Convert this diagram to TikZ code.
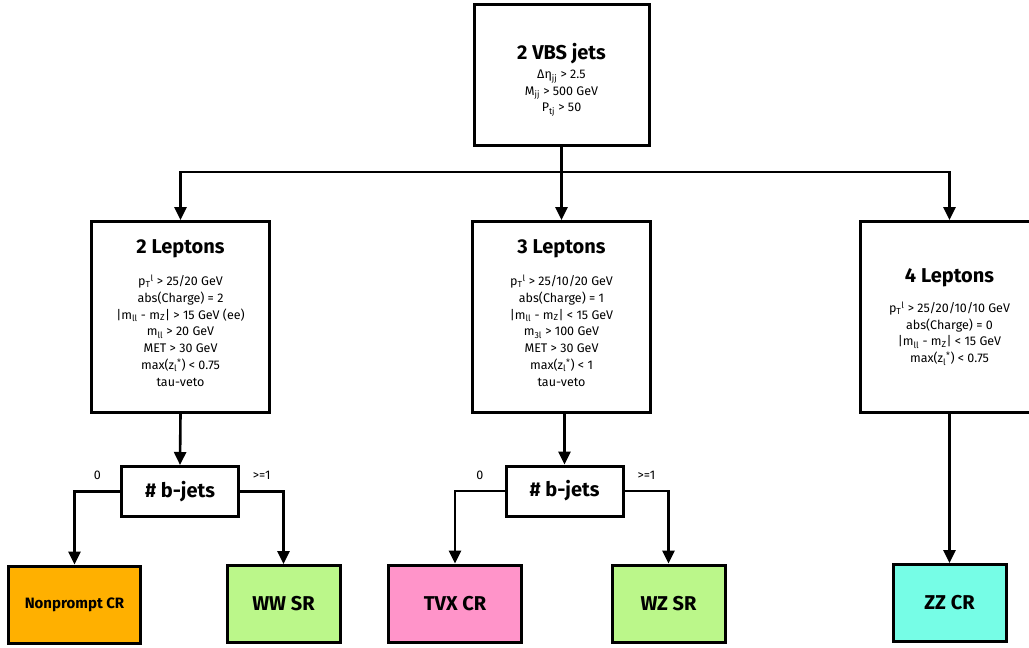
\documentclass[tikz,border=0pt]{standalone}
\usepackage{fontspec}
\setmainfont{Fira Sans}
\usepackage{xcolor}
\usetikzlibrary{arrows.meta, positioning}

\definecolor{nporange}{RGB}{255,176,0}
\definecolor{srgreen}{RGB}{187,247,138}
\definecolor{tvxpink}{RGB}{255,148,201}
\definecolor{zzcyan}{RGB}{118,253,230}

\newcommand{\boxtitle}[1]{{\fontsize{20}{22}\selectfont\bfseries #1}}

\begin{document}
\begin{tikzpicture}[
			x=1pt, y=-1pt,
			font=\fontsize{12.5}{16.8}\selectfont,
			cut/.style={draw, line width=3pt, fill=white, align=center, inner sep=0pt},
			region/.style={draw, line width=3pt, align=center, minimum height=77pt, font=\fontsize{20}{22}\selectfont\bfseries},
			arrow/.style={-{Triangle[length=13pt,width=12pt]}, line width=2.6pt},
			lbl/.style={font=\fontsize{12.5}{14}\selectfont, above, yshift=7pt}
			]
			\useasboundingbox (0,0) rectangle (1029,648);
			\clip (0,0) rectangle (1029,648);
			\fill[white] (0,0) rectangle (1029,648);
			
			% Nodes
			\node (vbs) [cut, minimum width=175pt, minimum height=141pt] at (561.5,75)
				{\rule{0pt}{26pt}\boxtitle{2 VBS jets}\\[2pt]
				 Δη\textsubscript{jj} > 2.5\\ M\textsubscript{jj} > 500 GeV\\ P\textsubscript{tj} > 50};
			\node (lep2) [cut, minimum width=178pt, minimum height=191pt] at (180.5,317)
				{\boxtitle{2 Leptons}\\[15pt]
				 p\textsubscript{T}\textsuperscript{l} > 25/20 GeV\\ abs(Charge) = 2\\
				 |m\textsubscript{ll} - m\textsubscript{Z}| > 15 GeV (ee)\\ m\textsubscript{ll} > 20 GeV\\
				 MET > 30 GeV\\ max(z\textsubscript{l}\textsuperscript{*}) < 0.75\\ tau-veto\rule[-8pt]{0pt}{8pt}};
			\node (lep3) [cut, minimum width=178pt, minimum height=191pt] at (561.5,317)
				{\boxtitle{3 Leptons}\\[15pt]
				 p\textsubscript{T}\textsuperscript{l} > 25/10/20 GeV\\ abs(Charge) = 1\\
				 |m\textsubscript{ll} - m\textsubscript{Z}| < 15 GeV\\ m\textsubscript{3l} > 100 GeV\\
				 MET > 30 GeV\\ max(z\textsubscript{l}\textsuperscript{*}) < 1\\ tau-veto\rule[-8pt]{0pt}{8pt}};
			\node (lep4) [cut, minimum width=178pt, minimum height=191pt] at (949.5,317)
				{\boxtitle{4 Leptons}\\[13pt]
				 p\textsubscript{T}\textsuperscript{l} > 25/20/10/10 GeV\\ abs(Charge) = 0\\
				 |m\textsubscript{ll} - m\textsubscript{Z}| < 15 GeV\\ max(z\textsubscript{l}\textsuperscript{*}) < 0.75};
			\node (bjets2) [cut, minimum width=117pt, minimum height=50pt] at (180,491.5) {\boxtitle{\# b-jets}};
			\node (bjets3) [cut, minimum width=117pt, minimum height=50pt] at (564.5,491) {\boxtitle{\# b-jets}};
			\node (nonprompt) [region, fill=nporange, minimum width=132pt, font=\fontsize{15}{18}\selectfont\bfseries] at (74.5,604.5) {Nonprompt CR};
			\node (wwsr) [region, fill=srgreen, minimum width=113pt] at (283.5,604) {WW SR};
			\node (tvxcr) [region, fill=tvxpink, minimum width=133pt] at (455,603.5) {TVX CR};
			\node (wzsr) [region, fill=srgreen, minimum width=113pt] at (668.5,603.5) {WZ SR};
			\node (zzcr) [region, fill=zzcyan, minimum width=113pt] at (949.5,603) {ZZ CR};
			\coordinate (split) at (561.5,172);
			
			% Connections
			\draw [arrow] (vbs.south) -- (lep3.north);
			\draw [arrow] (split) -| (lep2.north);
			\draw [arrow] (split) -| (lep4.north);
			\draw [arrow] (lep2.south) -- (bjets2.north);
			\draw [arrow] (bjets3.north |- lep3.south) -- (bjets3.north);
			\draw [arrow] (bjets2.west) -| node[lbl, pos=0.25] (zero2) {0} (nonprompt.north);
			\draw [arrow] (bjets2.east) -| node[lbl, pos=0.25] (one2) {>=1} (wwsr.north);
			\draw [arrow] (bjets3.west) -| node[lbl, pos=0.25] (zero3) {0} (tvxcr.north);
			\draw [arrow] (bjets3.east) -| node[lbl, pos=0.25] (one3) {>=1} (wzsr.north);
			\draw [arrow] (lep4.south) -- (zzcr.north);
			
		\end{tikzpicture}
\end{document}
